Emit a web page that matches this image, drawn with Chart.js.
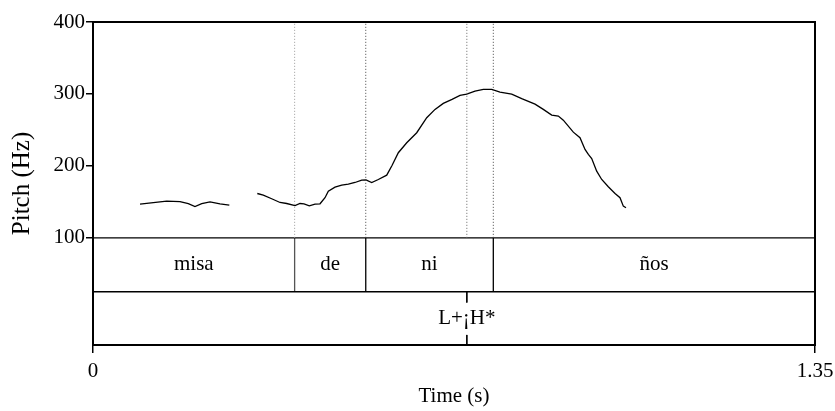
<!DOCTYPE html>
<html>
  <head>
    <meta charset="UTF-8" />
    <script src="https://cdn.jsdelivr.net/npm/chart.js"></script>
    <style>
      html,
      body {
        margin: 0;
        padding: 0;
        background: #fff;
      }
      #wrap {
        width: 835px;
        height: 411px;
      }
    </style>
  </head>
  <body>
    <div id="wrap"><canvas id="pitchChart" width="835" height="411"></canvas></div>
    <script>
      // axes
      const timeMax = 1.35;
      const timeTicks = [0, 1.35];
      const pitchTicks = [100, 200, 300, 400];
      const yFloor = -49; // room below 100 Hz for the two tiers
      const tierEdges = [100, 25, -49];

      // pitch contour, two voiced stretches (s, Hz)
      const seg1Time = [0.0879, 0.1128, 0.1378, 0.1627, 0.1782, 0.1907, 0.2033, 0.2188, 0.2375, 0.2549];
      const seg1Hz = [146.8, 149.0, 151.0, 150.4, 147.6, 143.5, 147.6, 150.0, 147.2, 145.4];

      const seg2Time = [
        0.3072, 0.3184, 0.3341, 0.3497, 0.3622, 0.3777, 0.3871, 0.3945, 0.4045, 0.4151,
        0.4245, 0.4338, 0.44, 0.4525, 0.465, 0.4774, 0.4899, 0.5024, 0.5105, 0.5211,
        0.5335, 0.5492, 0.5591, 0.5709, 0.5866, 0.6053, 0.624, 0.6395, 0.655, 0.6713,
        0.6862, 0.6988, 0.7143, 0.7298, 0.7455, 0.761, 0.7829, 0.8016, 0.8265, 0.842,
        0.8577, 0.8701, 0.8794, 0.8981, 0.9106, 0.92, 0.9262, 0.9325, 0.9418, 0.9512,
        0.9635, 0.9761, 0.9854, 0.9916, 0.9966,
      ];
      const seg2Hz = [
        161.6, 159.3, 154.3, 149.1, 147.7, 144.9, 147.7, 147.3, 144.5, 146.8,
        147.3, 155.7, 164.8, 170.4, 173.2, 174.6, 176.9, 180.1, 180.4, 176.9,
        181.1, 187.1, 200.6, 218.3, 232.2, 246.1, 267.0, 278.5, 286.9, 292.4,
        298.0, 299.8, 304.0, 306.3, 306.3, 302.6, 299.8, 293.4, 285.9, 278.5,
        270.6, 269.2, 263.6, 246.9, 239.1, 222.9, 215.9, 210.3, 192.7, 181.1,
        171.0, 161.6, 155.7, 144.0, 141.7,
      ];

      // textgrid
      const words = ["misa", "de", "ni", "ños"];
      const wordEdges = [0, 0.377, 0.51, 0.7485, 1.35];
      const tones = ["L+¡H*"];
      const toneTimes = [0.699];
      const dottedTimes = [0.377, 0.51, 0.699, 0.7485];
      const dottedColors = ["#9a9a9a", "#444", "#666", "#444"];

      const serif = "'Liberation Serif', 'Times New Roman', serif";

      function toPoints(xs, ys) {
        return xs.map((x, i) => ({ x: x, y: ys[i] }));
      }

      function lineSet(data, color, width, dash) {
        return {
          data: data,
          borderColor: color,
          borderWidth: width,
          borderDash: dash || [],
          pointRadius: 0,
          tension: 0,
          fill: false,
        };
      }

      const datasets = [];
      // dotted guides through the pitch panel
      dottedTimes.forEach((t, i) => {
        datasets.push(lineSet([{ x: t, y: tierEdges[0] }, { x: t, y: 400 }], dottedColors[i], 1, [1, 2]));
      });
      // tier rows
      tierEdges.slice(0, 2).forEach((v) => {
        datasets.push(lineSet([{ x: 0, y: v }, { x: timeMax, y: v }], "#000", 1.3));
      });
      // word boundaries
      wordEdges.slice(1, -1).forEach((t, i) => {
        datasets.push(lineSet([{ x: t, y: tierEdges[0] }, { x: t, y: tierEdges[1] }], i === 0 ? "#555" : "#000", 1.3));
      });
      // tone marks (top and bottom of point tier)
      toneTimes.forEach((t) => {
        datasets.push(lineSet([{ x: t, y: tierEdges[1] }, { x: t, y: 10 }], "#000", 1));
        datasets.push(lineSet([{ x: t, y: -35 }, { x: t, y: tierEdges[2] }], "#000", 1));
      });
      // pitch
      datasets.push(lineSet(toPoints(seg1Time, seg1Hz), "#000", 1.3));
      datasets.push(lineSet(toPoints(seg2Time, seg2Hz), "#000", 1.3));

      const gridLabels = {
        id: "gridLabels",
        afterDatasetsDraw(chart) {
          const { ctx, scales, chartArea } = chart;
          const x = scales.x;
          const y = scales.y;
          ctx.save();
          ctx.fillStyle = "#000";
          ctx.font = "21px " + serif;
          ctx.textAlign = "center";
          ctx.textBaseline = "middle";
          const row1 = (y.getPixelForValue(tierEdges[0]) + y.getPixelForValue(tierEdges[1])) / 2;
          const row2 = (y.getPixelForValue(tierEdges[1]) + y.getPixelForValue(tierEdges[2])) / 2;
          words.forEach((w, i) => {
            const cx = (x.getPixelForValue(wordEdges[i]) + x.getPixelForValue(wordEdges[i + 1])) / 2;
            ctx.fillText(w, cx, row1);
          });
          tones.forEach((w, i) => {
            ctx.fillText(w, x.getPixelForValue(toneTimes[i]), row2);
          });
          // frame
          ctx.strokeStyle = "#000";
          ctx.lineWidth = 2;
          ctx.strokeRect(chartArea.left, chartArea.top, chartArea.right - chartArea.left, chartArea.bottom - chartArea.top);
          ctx.restore();
        },
      };

      new Chart(document.getElementById("pitchChart"), {
        type: "line",
        data: { datasets: datasets },
        options: {
          responsive: false,
          animation: false,
          events: [],
          plugins: { legend: { display: false }, tooltip: { enabled: false } },
          layout: { padding: { top: 22, right: 20, left: 0, bottom: 0 } },
          scales: {
            x: {
              type: "linear",
              min: 0,
              max: timeMax,
              afterBuildTicks: (scale) => {
                scale.ticks = timeTicks.map((v) => ({ value: v }));
              },
              afterFit: (scale) => {
                scale.height = 66;
                scale.paddingLeft = 0;
                scale.paddingRight = 0;
              },
              ticks: {
                color: "#000",
                font: { family: serif, size: 21 },
                padding: 6,
                maxRotation: 0,
                autoSkip: false,
                callback: (v) => String(v),
              },
              grid: { drawOnChartArea: false, drawTicks: true, tickLength: 8, color: "#000", lineWidth: 1.5 },
              border: { display: true, color: "#000", width: 2 },
              title: {
                display: true,
                text: "Time (s)",
                color: "#000",
                font: { family: serif, size: 21 },
                padding: { top: 0, bottom: 2 },
              },
            },
            y: {
              type: "linear",
              min: yFloor,
              max: 400,
              afterBuildTicks: (scale) => {
                scale.ticks = pitchTicks.map((v) => ({ value: v }));
              },
              afterFit: (scale) => {
                scale.width = 93;
                scale.paddingTop = 0;
                scale.paddingBottom = 0;
              },
              ticks: {
                color: "#000",
                font: { family: serif, size: 21 },
                padding: 1,
              },
              grid: { drawOnChartArea: false, drawTicks: true, tickLength: 7, color: "#000", lineWidth: 1.5 },
              border: { display: true, color: "#000", width: 2 },
              title: {
                display: true,
                text: "Pitch (Hz)",
                color: "#000",
                font: { family: serif, size: 25 },
                padding: { top: 7, bottom: 0 },
              },
            },
          },
        },
        plugins: [gridLabels],
      });
    </script>
  </body>
</html>
